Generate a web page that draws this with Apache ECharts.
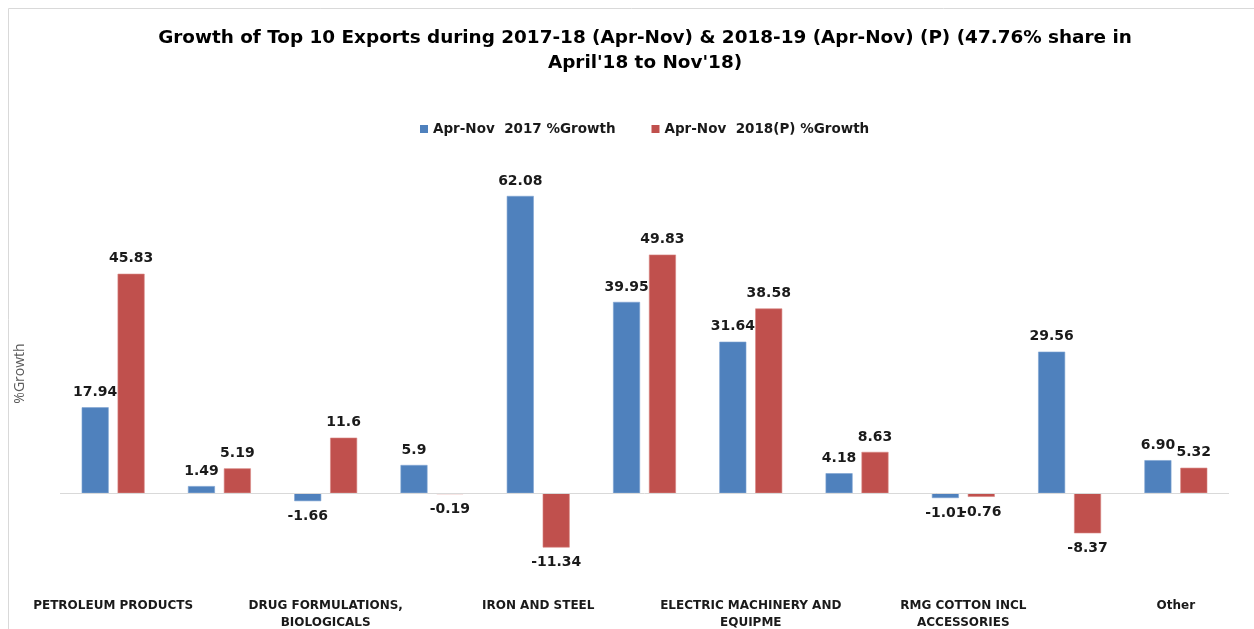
<!DOCTYPE html>
<html>
<head>
    <meta charset="utf-8" />
    <title>Top 10 Exports Growth</title>
    <script src="https://cdn.jsdelivr.net/npm/echarts@6/dist/echarts.min.js"></script>
    <style>
        html, body { margin: 0; padding: 0; background: #fff; }
        #chart { width: 1254px; height: 629px; }
    </style>
</head>
<body>
    <div id="chart"></div>
    <script type="text/javascript">
        // categories (only every other one is labelled in the original)
        var categories = [
            'PETROLEUM PRODUCTS',
            'PEARL, PRCS, SEMIPRCS STONES',
            'DRUG FORMULATIONS,\nBIOLOGICALS',
            'GOLD AND OTH PRECS METL JWLERY',
            'IRON AND STEEL',
            'ORGANIC CHEMICALS',
            'ELECTRIC MACHINERY AND\nEQUIPME',
            'MOTOR VEHICLES/CARS',
            'RMG COTTON INCL\nACCESSORIES',
            'ALUMINIUM, PRODUCTS OF ALUMINM',
            'Other'
        ];
        var growth2017 = [17.94, 1.49, -1.66, 5.9, 62.08, 39.95, 31.64, 4.18, -1.01, 29.56, 6.90];
        var growth2018 = [45.83, 5.19, 11.6, -0.19, -11.34, 49.83, 38.58, 8.63, -0.76, -8.37, 5.32];
        var text2017 = ['17.94', '1.49', '-1.66', '5.9', '62.08', '39.95', '31.64', '4.18', '-1.01', '29.56', '6.90'];
        var text2018 = ['45.83', '5.19', '11.6', '-0.19', '-11.34', '49.83', '38.58', '8.63', '-0.76', '-8.37', '5.32'];

        function barData(vals) {
            return vals.map(function (v) {
                return { value: v, label: { position: v < 0 ? 'bottom' : 'top' } };
            });
        }

        var labelStyle = {
            show: true,
            distance: 8,
            fontFamily: 'DejaVu Sans',
            fontWeight: 'bold',
            fontSize: 14,
            color: '#1a1a1a'
        };

        var myChart = echarts.init(document.getElementById('chart'));

        myChart.setOption({
            animation: false,
            title: {
                text: "Growth of Top 10 Exports during 2017-18 (Apr-Nov) & 2018-19 (Apr-Nov) (P) (47.76% share in\nApril'18 to Nov'18)",
                left: 640,
                top: 21,
                textAlign: 'center',
                textStyle: {
                    fontFamily: 'DejaVu Sans',
                    fontWeight: 'bold',
                    fontSize: 18.4,
                    lineHeight: 25,
                    color: '#000'
                }
            },
            legend: {
                top: 117,
                left: 415,
                itemWidth: 8,
                itemHeight: 8,
                itemGap: 36,
                icon: 'rect',
                itemStyle: { borderWidth: 0 },
                textStyle: {
                    fontFamily: 'DejaVu Sans',
                    fontWeight: 'bold',
                    fontSize: 13.5,
                    color: '#1a1a1a'
                },
                data: ['Apr-Nov  2017 %Growth', 'Apr-Nov  2018(P) %Growth']
            },
            graphic: [{
                type: 'rect',
                shape: { x: 8.5, y: 8.5, width: 1400, height: 800 },
                style: { fill: 'none', stroke: '#d9d9d9', lineWidth: 1 },
                silent: true
            }],
            grid: {
                left: 60,
                right: 25,
                top: 158,
                bottom: 40,
                outerBoundsMode: 'none'
            },
            xAxis: {
                type: 'category',
                data: categories,
                axisLine: { show: false },
                axisTick: { show: false },
                axisLabel: {
                    interval: 1,
                    margin: 8,
                    fontFamily: 'DejaVu Sans',
                    fontWeight: 'bold',
                    fontSize: 12,
                    lineHeight: 17,
                    color: '#1a1a1a'
                }
            },
            yAxis: {
                type: 'value',
                min: -20,
                max: 70,
                name: '%Growth',
                nameLocation: 'middle',
                nameGap: 33,
                nameTextStyle: {
                    fontFamily: 'Open Sans',
                    fontSize: 14,
                    color: '#595959'
                },
                axisLine: { show: false },
                axisTick: { show: false },
                axisLabel: { show: false },
                splitLine: { show: false }
            },
            series: [{
                name: 'Apr-Nov  2017 %Growth',
                type: 'bar',
                barWidth: 27,
                barGap: '33%',
                itemStyle: { color: '#4F81BD', borderColor: '#7ea3d2', borderWidth: 0.6 },
                label: Object.assign({}, labelStyle, {
                    formatter: function (p) { return text2017[p.dataIndex]; }
                }),
                data: barData(growth2017),
                markLine: {
                    silent: true,
                    symbol: 'none',
                    label: { show: false },
                    lineStyle: { color: '#d9d9d9', type: 'solid', width: 1 },
                    data: [{ yAxis: 0 }]
                }
            }, {
                name: 'Apr-Nov  2018(P) %Growth',
                type: 'bar',
                barWidth: 27,
                barGap: '33%',
                itemStyle: { color: '#C0504D', borderColor: '#d98683', borderWidth: 0.6 },
                label: Object.assign({}, labelStyle, {
                    formatter: function (p) { return text2018[p.dataIndex]; }
                }),
                data: barData(growth2018)
            }]
        });
    </script>
</body>
</html>
